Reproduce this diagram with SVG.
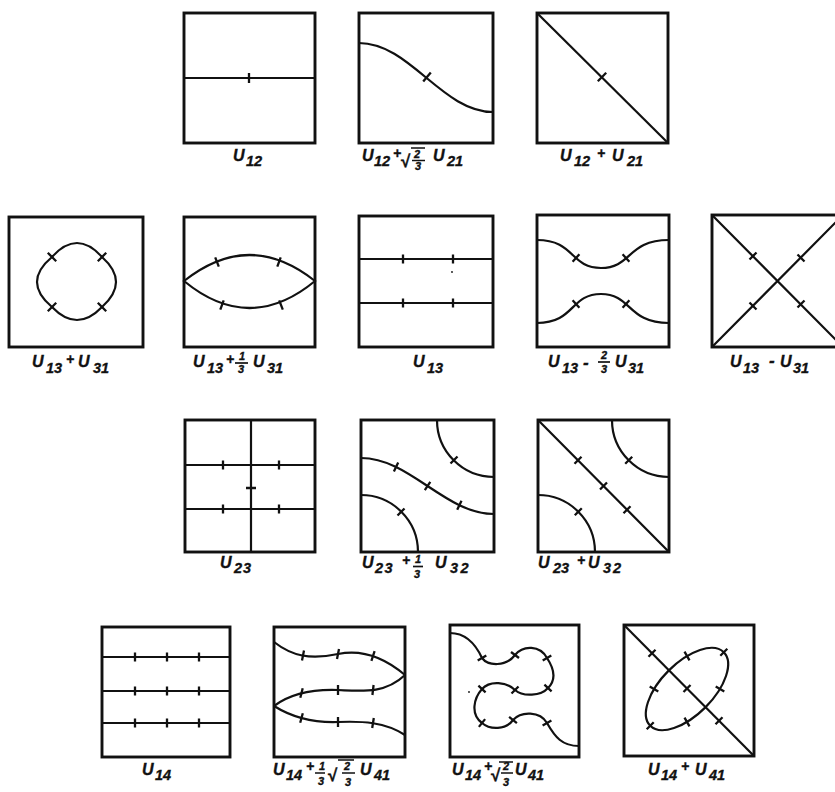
<svg xmlns="http://www.w3.org/2000/svg" width="835" height="792" viewBox="0 0 835 792">
<style>
.box{fill:none;stroke:#111;stroke-width:2.9}
.ln{fill:none;stroke:#111;stroke-width:2.2}
.tk{fill:none;stroke:#111;stroke-width:2.3}
.bar{stroke:#111;stroke-width:1.7}
.t{font-family:"Liberation Sans",Arial,sans-serif;font-style:italic;font-weight:bold;fill:#111;stroke:#111;stroke-width:0.35;font-size:16px}
.s{font-size:14.5px}
.p{font-size:14px}
.m{font-size:17px}
.fr{font-size:11px}
.rt{font-size:17px;font-style:normal}
</style>
<rect width="835" height="792" fill="#fff"/>

<!-- Row 1 -->
<g id="u12">
<rect class="box" x="184" y="13" width="131" height="130"/>
<path class="ln" d="M184,78H315"/>
<path class="tk" d="M249,73V83"/>
<text class="t"><tspan x="233" y="161">U</tspan><tspan class="s" x="246" y="166">12</tspan></text>
</g>
<g id="u12-sqrt23-u21">
<rect class="box" x="359" y="13" width="134" height="130"/>
<path class="ln" d="M359,43C410,43 442,112 493,112"/>
<path class="tk" d="M423.2,81.6L430.8,72.4"/>
<text class="t"><tspan x="362" y="161">U</tspan><tspan class="s" x="374" y="166">12</tspan><tspan class="p" x="393" y="158">+</tspan><tspan class="rt" x="401" y="167">√</tspan><tspan class="fr" x="414" y="158">2</tspan><tspan class="fr" x="415" y="170">3</tspan><tspan x="433" y="161">U</tspan><tspan class="s" x="447" y="166">21</tspan></text>
<path class="bar" d="M411,148H425M412,160.5H425"/>
</g>
<g id="u12-u21">
<rect class="box" x="537" y="13" width="131" height="130"/>
<path class="ln" d="M537,13L668,143"/>
<path class="tk" d="M597.8,81.2L606.2,72.8"/>
<text class="t"><tspan x="560" y="161">U</tspan><tspan class="s" x="574" y="166">12</tspan><tspan class="p" x="597" y="158">+</tspan><tspan x="612" y="161">U</tspan><tspan class="s" x="627" y="166">21</tspan></text>
</g>

<!-- Row 2 -->
<g id="u13-u31-sum">
<rect class="box" x="9" y="217" width="134" height="130"/>
<path class="ln" d="M52,257Q77,229 102,257Q130,282 102,307Q77,333 52,307Q22,282 52,257Z"/>
<path class="tk" d="M47.8,252.8L56.2,261.2M97.8,261.2L106.2,252.8M47.8,311.2L56.2,302.8M97.8,302.8L106.2,311.2"/>
<text class="t"><tspan x="32" y="367">U</tspan><tspan class="s" x="46" y="373">13</tspan><tspan class="p" x="66" y="364">+</tspan><tspan x="78" y="367">U</tspan><tspan class="s" x="93" y="373">31</tspan></text>
</g>
<g id="u13-third-u31">
<rect class="box" x="184" y="217" width="131" height="130"/>
<path class="ln" d="M184,281Q249.5,229 315,281Q249.5,335 184,281Z"/>
<path class="tk" d="M215.2,257.4L218.8,266.6M280.7,257.3L277.3,266.7M223.7,300.3L220.3,309.7M279.2,300.4L282.8,309.6"/>
<text class="t"><tspan x="193" y="367">U</tspan><tspan class="s" x="207" y="373">13</tspan><tspan class="p" x="226" y="364">+</tspan><tspan class="fr" x="239" y="360">1</tspan><tspan class="fr" x="238" y="373">3</tspan><tspan x="253" y="367">U</tspan><tspan class="s" x="267" y="373">31</tspan></text>
<path class="bar" d="M235,363H248"/>
</g>
<g id="u13">
<rect class="box" x="359" y="216" width="134" height="131"/>
<path class="ln" d="M359,259H493M359,303H493"/>
<path class="tk" d="M403,254.5V263.5M453,254.5V263.5M403,298.5V307.5M453,298.5V307.5"/>
<circle cx="452" cy="272" r="0.9" fill="#111"/>
<text class="t"><tspan x="413" y="367">U</tspan><tspan class="s" x="427" y="373">13</tspan></text>
</g>
<g id="u13-twothirds-u31">
<rect class="box" x="537" y="215" width="132" height="132"/>
<path class="ln" d="M537,240C575,240 570,268 601,268C632,268 627,240 669,240M537,323C575,323 570,294 601,294C632,294 627,323 669,323"/>
<path class="tk" d="M579.4,254.3L572.6,261.7M622.6,254.3L629.4,261.7M572.6,300.3L579.4,307.7M629.4,300.3L622.6,307.7"/>
<text class="t"><tspan x="548" y="367">U</tspan><tspan class="s" x="562" y="373">13</tspan><tspan class="m" x="583" y="368">-</tspan><tspan class="fr" x="601" y="359">2</tspan><tspan class="fr" x="601" y="373">3</tspan><tspan x="615" y="367">U</tspan><tspan class="s" x="628" y="373">31</tspan></text>
<path class="bar" d="M598,362H610"/>
</g>
<g id="u13-minus-u31">
<rect class="box" x="712" y="215" width="131" height="132"/>
<path class="ln" d="M712,215L843,347M712,347L843,215"/>
<path class="tk" d="M749.5,259.5L756.5,252.5M797.5,307.5L804.5,300.5M797.5,254.5L804.5,261.5M749.5,302.5L756.5,309.5"/>
<text class="t"><tspan x="730" y="367">U</tspan><tspan class="s" x="743" y="373">13</tspan><tspan class="m" x="769" y="366">-</tspan><tspan x="780" y="367">U</tspan><tspan class="s" x="793" y="373">31</tspan></text>
</g>

<!-- Row 3 -->
<g id="u23">
<rect class="box" x="185" y="420" width="130" height="132"/>
<path class="ln" d="M251,420V552M185,465H315M185,509H315"/>
<path class="tk" d="M223,460.5V469.5M279,460.5V469.5M223,504.5V513.5M279,504.5V513.5M246,488H256"/>
<text class="t"><tspan x="220" y="568">U</tspan><tspan class="s" x="234" y="573" letter-spacing="1">23</tspan></text>
</g>
<g id="u23-third-u32">
<rect class="box" x="361" y="420" width="133" height="132"/>
<path class="ln" d="M437,420A57,57 0 0 0 494,477M361,495A57,57 0 0 1 418,552M361,458C410,458 445,514 494,514"/>
<path class="tk" d="M450.5,463.5L457.5,456.5M397.5,515.5L404.5,508.5M398.2,462.5L393.9,471.5M430.3,481.9L424.8,490.2M461.5,500.8L457.2,509.8"/>
<text class="t"><tspan x="362" y="568">U</tspan><tspan class="s" x="375" y="573" letter-spacing="1.5">23</tspan><tspan class="p" x="402" y="565">+</tspan><tspan class="fr" x="415" y="563">1</tspan><tspan class="fr" x="414" y="578">3</tspan><tspan x="435" y="568">U</tspan><tspan class="s" x="450" y="573" letter-spacing="2.5">32</tspan></text>
<path class="bar" d="M413,566.5H423"/>
</g>
<g id="u23-u32">
<rect class="box" x="538" y="420" width="131" height="132"/>
<path class="ln" d="M538,420L669,552M612,420A57,57 0 0 0 669,477M538,495A57,57 0 0 1 595,552"/>
<path class="tk" d="M625.2,463.8L632.2,456.8M574.8,515.2L581.8,508.2M574.5,463.8L581.5,456.8M600,489.5L607,482.5M623.5,513.2L630.5,506.2"/>
<text class="t"><tspan x="538" y="568">U</tspan><tspan class="s" x="553" y="573">23</tspan><tspan class="p" x="577" y="565">+</tspan><tspan x="588" y="568">U</tspan><tspan class="s" x="603" y="573" letter-spacing="2">32</tspan></text>
</g>

<!-- Row 4 -->
<g id="u14">
<rect class="box" x="102" y="627" width="128" height="130"/>
<path class="ln" d="M102,657H230M102,691H230M102,723H230"/>
<path class="tk" d="M135,652.5V661.5M167,652.5V661.5M199,652.5V661.5M135,686.5V695.5M167,686.5V695.5M199,686.5V695.5M135,718.5V727.5M167,718.5V727.5M199,718.5V727.5"/>
<text class="t"><tspan x="142" y="775">U</tspan><tspan class="s" x="155" y="780">14</tspan></text>
</g>
<g id="u14-third-sqrt23-u41">
<rect class="box" x="274" y="627" width="131" height="130"/>
<path class="ln" d="M274,642C292,656 310,660 338,654C362,649 385,658 405,675M274,706C290,694 310,689 338,690C362,691 385,694 405,675M274,706C290,716 310,723 338,722C362,721 385,722 405,735"/>
<path class="tk" d="M304,650.6L302,660.4M339,649L337,659M374.6,651.2L371.4,660.8M302.7,688.2L300.3,697.8M338,685V695M373.6,685L372.4,695M302.8,713.2L300.2,722.8M338,717V727M373.8,718L372.2,728"/>
<text class="t"><tspan x="273" y="775">U</tspan><tspan class="s" x="286" y="780">14</tspan><tspan class="p" x="306" y="771">+</tspan><tspan class="fr" x="319" y="770">1</tspan><tspan class="fr" x="318" y="785">3</tspan><tspan class="rt" x="328" y="781">√</tspan><tspan class="fr" x="344" y="770">2</tspan><tspan class="fr" x="345" y="786">3</tspan><tspan x="360" y="775">U</tspan><tspan class="s" x="374" y="780">41</tspan></text>
<path class="bar" d="M315,773H325M338,760H354M342,773H355"/>
</g>
<g id="u14-sqrt23-u41">
<rect class="box" x="450" y="625" width="129" height="132"/>
<path class="ln" d="M450,633C466,633 476,645 482,658C488,666 506,667 515,655C523,645 540,645 547,658C555,670 556,680 548,688C541,696 523,697 515,690C507,682 490,680 482,689C474,698 470,714 482,723C490,730 506,730 513,720C521,711 540,711 547,723C555,737 562,746 579,746"/>
<path class="tk" d="M486.3,655.5L477.7,660.5M511,652L519,658M551.3,655.5L542.7,660.5M544.4,684.6L551.6,691.4M511.5,693.5L518.5,686.5M478.4,685.6L485.6,692.4M485.1,719.1L478.9,726.9M509.1,716.9L516.9,723.1M551.4,720.5L542.6,725.5"/>
<circle cx="469" cy="692" r="0.9" fill="#111"/>
<text class="t"><tspan x="452" y="775">U</tspan><tspan class="s" x="465" y="780">14</tspan><tspan class="p" x="484" y="771">+</tspan><tspan class="rt" x="491" y="781">√</tspan><tspan class="fr" x="503" y="770">2</tspan><tspan class="fr" x="503" y="786">3</tspan><tspan x="515" y="775">U</tspan><tspan class="s" x="528" y="780">41</tspan></text>
<path class="bar" d="M499,762H513M501,773H513"/>
</g>
<g id="u14-u41">
<rect class="box" x="624" y="625" width="130" height="131"/>
<path class="ln" d="M624,625L754,756"/>
<ellipse class="ln" cx="687" cy="689" rx="52" ry="26" transform="rotate(-45 687 689)"/>
<path class="tk" d="M684.5,651.7L689.5,660.3M684.5,717.7L689.5,726.3M649.7,686.5L658.3,691.5M715.7,686.5L724.3,691.5M720.3,655.7L727.3,648.7M646.7,729.3L653.7,722.3M648.5,656.7L655.5,649.7M683.5,692L690.5,685M715.5,724.2L722.5,717.2"/>
<text class="t"><tspan x="648" y="775">U</tspan><tspan class="s" x="661" y="780">14</tspan><tspan class="p" x="681" y="771">+</tspan><tspan x="695" y="775">U</tspan><tspan class="s" x="709" y="780">41</tspan></text>
</g>
</svg>
